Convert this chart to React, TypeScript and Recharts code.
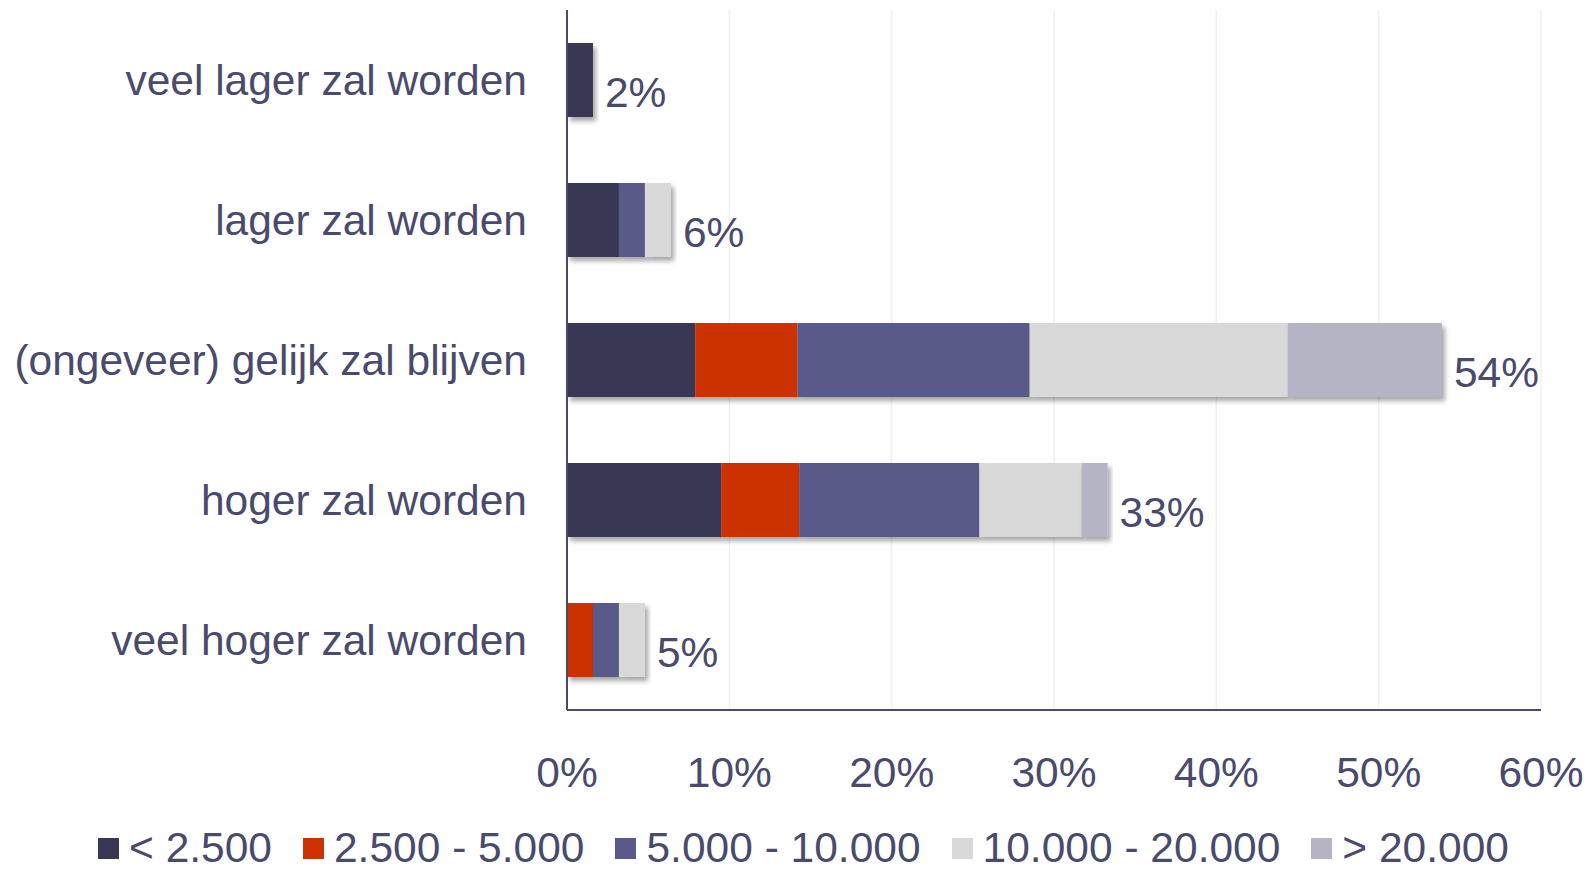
import React from "react";
import { BarChart, Bar, XAxis, YAxis, CartesianGrid, LabelList } from "recharts";

document.body.style.margin = "0";

const categories = [
  "veel lager zal worden",
  "lager zal worden",
  "(ongeveer) gelijk zal blijven",
  "hoger zal worden",
  "veel hoger zal worden",
];

// share of respondents (%) per income band
const below2500 = [1.6, 3.2, 7.9, 9.5, 0];
const from2500to5000 = [0, 0, 6.3, 4.8, 1.6];
const from5000to10000 = [0, 1.6, 14.3, 11.1, 1.6];
const from10000to20000 = [0, 1.6, 15.9, 6.3, 1.6];
const above20000 = [0, 0, 9.5, 1.6, 0];

const xTicks = [0, 10, 20, 30, 40, 50, 60];

const series = [
  { key: "a", label: "< 2.500", color: "#383854", values: below2500 },
  { key: "b", label: "2.500 - 5.000", color: "#cc3300", values: from2500to5000 },
  { key: "c", label: "5.000 - 10.000", color: "#5a5a8a", values: from5000to10000 },
  { key: "d", label: "10.000 - 20.000", color: "#d9d9d9", values: from10000to20000 },
  { key: "e", label: "> 20.000", color: "#b4b4c4", values: above20000 },
];

const data = categories.map((name, i) => {
  const row: Record<string, string | number> = { name };
  let total = 0;
  series.forEach((s) => {
    row[s.key] = s.values[i];
    total += s.values[i];
  });
  row.total = total;
  return row;
});

const TEXT = "#4a4a6e";
const FONT = "'Liberation Sans', Arial, sans-serif";
const FS = 42.5;

const ShadowRect = (props: any) => {
  const { x, y, width, height, fill } = props;
  if (!width || width <= 0) return <g />;
  return <rect x={x} y={y} width={width} height={height} fill={fill} filter="url(#barShadow)" />;
};

const TotalLabel = (props: any) => {
  const { x, y, width, height, value } = props;
  return (
    <text
      x={x + width + 12}
      y={y + height / 2 + 12}
      fill={TEXT}
      fontSize={FS}
      fontFamily={FONT}
      dominantBaseline="central"
    >
      {`${Math.round(value)}%`}
    </text>
  );
};

export default function App() {
  return (
    <div style={{ position: "relative", width: 1587, height: 875, background: "#fff", overflow: "hidden" }}>
      <BarChart
        width={1587}
        height={875}
        data={data}
        layout="vertical"
        margin={{ top: 10, right: 46, left: 0, bottom: 65 }}
      >
        <defs>
          <filter id="barShadow" x="-10%" y="-20%" width="130%" height="150%">
            <feDropShadow dx={3} dy={4} stdDeviation={2.5} floodColor="#000" floodOpacity={0.35} />
          </filter>
        </defs>
        <CartesianGrid horizontal={false} stroke="#f0f0f0" strokeWidth={1.5} />
        <XAxis
          type="number"
          domain={[0, 60]}
          ticks={xTicks}
          tickFormatter={(v) => `${v}%`}
          height={100}
          tickSize={0}
          tickMargin={47}
          tickLine={false}
          axisLine={{ stroke: TEXT, strokeWidth: 2 }}
          tick={{ fill: TEXT, fontSize: FS, fontFamily: FONT }}
          interval={0}
        />
        <YAxis
          type="category"
          dataKey="name"
          width={567}
          tickSize={0}
          tickMargin={40}
          tickLine={false}
          axisLine={{ stroke: TEXT, strokeWidth: 2 }}
          tick={{ fill: TEXT, fontSize: FS, fontFamily: FONT }}
          interval={0}
        />
        {series.map((s, idx) => (
          <Bar
            key={s.key}
            dataKey={s.key}
            stackId="1"
            fill={s.color}
            barSize={74}
            isAnimationActive={false}
            shape={ShadowRect}
          >
            {idx === series.length - 1 && (
              <LabelList dataKey="total" content={TotalLabel} />
            )}
          </Bar>
        ))}
      </BarChart>
      <div
        style={{
          position: "absolute",
          left: 98,
          top: 824,
          display: "flex",
          alignItems: "center",
          fontFamily: FONT,
          fontSize: FS,
          lineHeight: "48px",
          color: TEXT,
          whiteSpace: "nowrap",
        }}
      >
        {series.map((s) => (
          <div key={s.key} style={{ display: "flex", alignItems: "center", marginRight: 31 }}>
            <span style={{ width: 21, height: 21, background: s.color, display: "inline-block", marginRight: 10 }} />
            <span>{s.label}</span>
          </div>
        ))}
      </div>
    </div>
  );
}
